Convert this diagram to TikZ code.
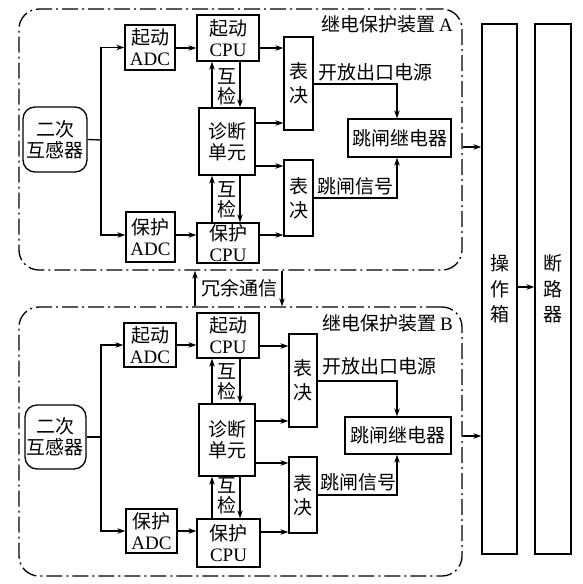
\documentclass[tikz,border=0pt]{standalone}
\usepackage{fontspec}
\setmainfont{Liberation Serif}
\newfontfamily\cjk{Noto Sans CJK SC}
\usetikzlibrary{arrows.meta,calc}
\newcommand\zh[1]{{\cjk #1}}
\tikzset{
 blk/.style={draw, line width=1.3pt, inner sep=0pt, align=center, font=\fontsize{19}{21}\selectfont},
 arr/.style={line width=1.3pt, -{Stealth[length=8pt,width=5.5pt]}},
 ln/.style={line width=1.3pt},
 frame/.style={dash pattern=on 16pt off 4pt on 2pt off 4pt, rounded corners=20pt},
 lbl/.style={inner sep=0pt, align=center, font=\fontsize{19}{21}\selectfont},
 tall/.style={font=\fontsize{19}{24}\selectfont},
 taller/.style={font=\fontsize{19}{25.5}\selectfont},
 chk/.style={lbl, font=\fontsize{19}{20}\selectfont},
}
\newcommand\pbox[7][]{%
 \pgfmathsetmacro\pbw{#5-#3}\pgfmathsetmacro\pbh{#6-#4}%
 \pgfmathsetmacro\pbx{(#3+#5)/2}\pgfmathsetmacro\pby{(#4+#6)/2}%
 \node[blk,minimum width=\pbw pt,minimum height=\pbh pt,#1] (#2) at (\pbx,\pby) {#7};}
\begin{document}
\begin{tikzpicture}[x=1pt,y=-1pt]
\useasboundingbox (0,0) rectangle (583,584);
% ---------- Section A ----------
\pbox[frame]{fA}{19}{9}{462}{270}{}
\pbox[rounded corners=12pt]{ctA}{23}{107}{87}{172}{\zh{二次}\\\zh{互感器}}
\pbox{saA}{125}{25}{175}{70}{\zh{起动}\\ADC}
\pbox{scA}{197}{15}{259}{61}{\zh{起动}\\CPU}
\pbox{dgA}{199}{108}{255}{175}{\zh{诊断}\\\zh{单元}}
\pbox{paA}{126}{212}{175}{262}{\zh{保护}\\ADC}
\pbox{pcA}{197}{223}{259}{263}{\zh{保护}\\CPU}
\pbox[tall]{v1A}{284}{37}{313}{130}{\zh{表}\\\zh{决}}
\pbox[tall]{v2A}{284}{160}{313}{236}{\zh{表}\\\zh{决}}
\pbox{rlA}{348}{119}{451}{157}{\zh{跳闸继电器}}
\coordinate (jA) at (101,140);
\draw[ln] (ctA.east) -- (jA);
\draw[arr] (jA) |- (saA.west);
\draw[arr] (jA) |- (paA.west |- 0,235);
\draw[arr] (saA.east |- 0,48) -- (scA.west |- 0,48);
\draw[arr] (paA.east |- 0,235) -- (pcA.west |- 0,235);
\draw[arr] (scA.east |- 0,48) -- (v1A.west |- 0,48);
\draw[arr] (dgA.east |- 0,123) -- (v1A.west |- 0,123);
\draw[arr] (dgA.east |- 0,166) -- (v2A.west |- 0,166);
\draw[arr] (pcA.east |- 0,235) -- (v2A.west |- 0,235);
\draw[arr] (dgA.north -| 212,0) -- (scA.south -| 212,0);
\draw[arr] (scA.south -| 240,0) -- (dgA.north -| 240,0);
\draw[arr] (pcA.north -| 212,0) -- (dgA.south -| 212,0);
\draw[arr] (dgA.south -| 240,0) -- (pcA.north -| 240,0);
\node[chk] (h1A) at (227,87) {\zh{互}\\\zh{检}};
\node[chk] (h2A) at (227,200) {\zh{互}\\\zh{检}};
\draw[arr] (v1A.east |- 0,84) -| (rlA.north -| 397,0);
\draw[arr] (v2A.east |- 0,198) -| (rlA.south -| 397,0);
\node[lbl,anchor=west] (kfA) at (318,72) {\zh{开放出口电源}};
\node[lbl,anchor=west] (tzA) at (317,186) {\zh{跳闸信号}};
\node[lbl,anchor=east] (tA) at (453,24) {\zh{继电保护装置}\,A};
% ---------- Section B ----------
\pbox[frame]{fB}{19}{307}{462}{576}{}
\pbox[rounded corners=12pt]{ctB}{25}{405}{86}{469}{\zh{二次}\\\zh{互感器}}
\pbox{saB}{124}{323}{176}{367}{\zh{起动}\\ADC}
\pbox{scB}{197}{313}{259}{358}{\zh{起动}\\CPU}
\pbox{dgB}{199}{404}{255}{476}{\zh{诊断}\\\zh{单元}}
\pbox{paB}{126}{509}{177}{553}{\zh{保护}\\ADC}
\pbox{pcB}{197}{519}{260}{567}{\zh{保护}\\CPU}
\pbox[tall]{v1B}{289}{334}{317}{427}{\zh{表}\\\zh{决}}
\pbox[tall]{v2B}{289}{457}{317}{533}{\zh{表}\\\zh{决}}
\pbox{rlB}{345}{417}{451}{454}{\zh{跳闸继电器}}
\coordinate (jB) at (101,437);
\draw[ln] (ctB.east) -- (jB);
\draw[arr] (jB) |- (saB.west |- 0,345);
\draw[arr] (jB) |- (paB.west |- 0,531);
\draw[arr] (saB.east |- 0,345) -- (scB.west |- 0,345);
\draw[arr] (paB.east |- 0,531) -- (pcB.west |- 0,531);
\draw[arr] (scB.east |- 0,346) -- (v1B.west |- 0,346);
\draw[arr] (dgB.east |- 0,421) -- (v1B.west |- 0,421);
\draw[arr] (dgB.east |- 0,463) -- (v2B.west |- 0,463);
\draw[arr] (pcB.east |- 0,532) -- (v2B.west |- 0,532);
\draw[arr] (dgB.north -| 212,0) -- (scB.south -| 212,0);
\draw[arr] (scB.south -| 240,0) -- (dgB.north -| 240,0);
\draw[arr] (pcB.north -| 212,0) -- (dgB.south -| 212,0);
\draw[arr] (dgB.south -| 240,0) -- (pcB.north -| 240,0);
\node[chk] (h1B) at (227,382) {\zh{互}\\\zh{检}};
\node[chk] (h2B) at (227,496) {\zh{互}\\\zh{检}};
\draw[arr] (v1B.east |- 0,381) -| (rlB.north -| 397,0);
\draw[arr] (v2B.east |- 0,495) -| (rlB.south -| 397,0);
\node[lbl,anchor=west] (kfB) at (322,366) {\zh{开放出口电源}};
\node[lbl,anchor=west] (tzB) at (320,482) {\zh{跳闸信号}};
\node[lbl,anchor=east] (tB) at (453,323) {\zh{继电保护装置}\,B};
% ---------- redundancy ----------
\draw[arr] (fB.north -| 195,0) -- (fA.south -| 195,0);
\draw[arr] (fA.south -| 282,0) -- (fB.north -| 282,0);
\node[lbl] (ry) at (239,288) {\zh{冗余通信}};
% ---------- right side ----------
\pbox[taller]{czx}{482}{24}{517}{554}{\zh{操}\\\zh{作}\\\zh{箱}}
\pbox[taller]{dlq}{535}{24}{571}{554}{\zh{断}\\\zh{路}\\\zh{器}}
\draw[arr] (fA.east |- 0,147) -- (czx.west |- 0,147);
\draw[arr] (fB.east |- 0,436) -- (czx.west |- 0,436);
\draw[arr] (czx.east |- 0,287) -- (dlq.west |- 0,287);
\end{tikzpicture}
\end{document}
